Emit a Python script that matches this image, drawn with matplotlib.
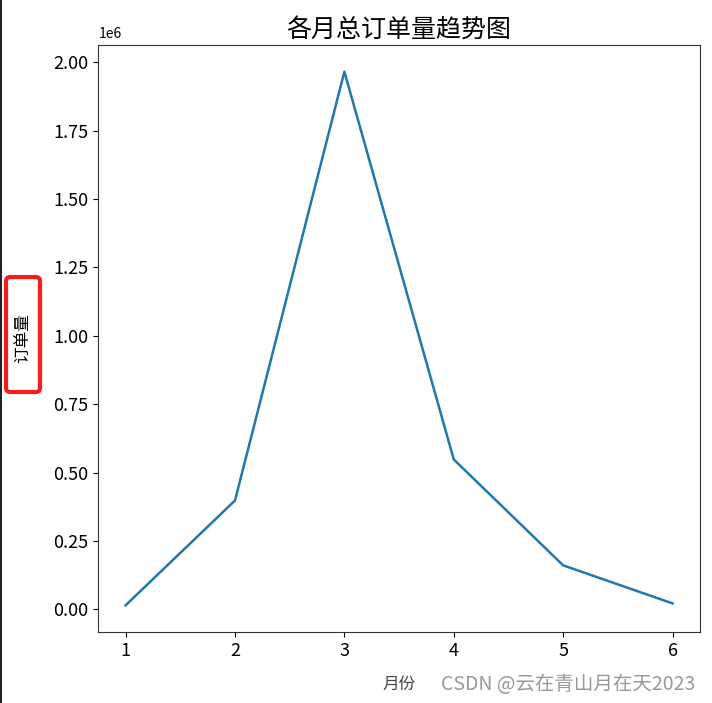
import matplotlib
matplotlib.use("Agg")
import matplotlib.pyplot as plt
from matplotlib.patches import FancyBboxPatch
from matplotlib.lines import Line2D

plt.rcParams['font.family'] = ['Noto Sans CJK SC', 'DejaVu Sans']
plt.rcParams['axes.unicode_minus'] = False

months = [1, 2, 3, 4, 5, 6]
orders = [15000, 398000, 1965000, 548000, 161000, 22000]

title = "各月总订单量趋势图"
xlabel = "月份"
ylabel = "订单量"
watermark = "CSDN @云在青山月在天2023"

fig = plt.figure(figsize=(7.12, 7.03), dpi=100)
ax = fig.add_axes([0.138, 0.101, 0.845, 0.835])
ax.plot(months, orders, color="#1f77b4", linewidth=1.8)

ax.set_title(title, fontsize=18, pad=5)
ax.set_xlabel(xlabel, fontsize=12, color="#444444", labelpad=12)
ax.set_ylabel(ylabel, fontsize=12, labelpad=16)
ax.tick_params(labelsize=13)
ax.set_yticks([0, 250000, 500000, 750000, 1000000, 1250000, 1500000, 1750000, 2000000])
ax.yaxis.set_major_formatter(matplotlib.ticker.FuncFormatter(lambda v, p: f"{v/1e6:.2f}"))
fig.text(0.138, 0.942, "1e6", fontsize=10, ha="left", va="bottom")

for sp in ax.spines.values():
    sp.set_color("#333333")

# red annotation box around the y label
box = FancyBboxPatch((6 / 712, 1 - 392 / 703), 34 / 712, 115 / 703,
                     boxstyle="round,pad=0,rounding_size=0.006",
                     transform=fig.transFigure, fill=False,
                     edgecolor="#ff1a1a", linewidth=3)
fig.patches.append(box)

# left border of the screenshot
fig.add_artist(Line2D([0.001, 0.001], [0, 1], transform=fig.transFigure,
                      color="#222222", linewidth=1.5))

fig.text(0.976, 0.012, watermark, fontsize=14, color="#999999",
         ha="right", va="bottom")

fig.savefig("out.png", dpi=100)
